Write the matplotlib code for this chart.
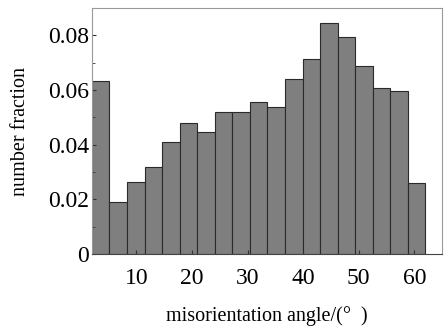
import numpy as np
import matplotlib.pyplot as plt
from matplotlib.ticker import MultipleLocator

# histogram of misorientation angle, 19 bins from 2 to 62 deg
bin_start = 2.0
bin_width = 60.0 / 19
fraction = [0.0634, 0.0192, 0.0263, 0.0320, 0.0408, 0.0478, 0.0448, 0.0519,
            0.0519, 0.0557, 0.0537, 0.0641, 0.0713, 0.0844, 0.0793, 0.0686,
            0.0607, 0.0595, 0.0260]
xticks = [10, 20, 30, 40, 50, 60]
yticks = [0, 0.02, 0.04, 0.06, 0.08]
ytick_labels = ["0", "0.02", "0.04", "0.06", "0.08"]

plt.rcParams['font.family'] = ['Liberation Serif', 'DejaVu Serif']

fig = plt.figure(figsize=(4.48, 3.3), dpi=100)
ax = fig.add_axes([0.205, 0.230, 0.782, 0.746])

left_edges = bin_start + bin_width * np.arange(len(fraction))
ax.bar(left_edges, fraction, width=bin_width, align='edge',
       color='#7f7f7f', edgecolor='#2a2a2a', linewidth=0.8)

ax.set_xlim(2, 65)
ax.set_ylim(0, 0.09)
ax.set_xticks(xticks)
ax.set_yticks(yticks)
ax.set_yticklabels(ytick_labels)
ax.yaxis.set_minor_locator(MultipleLocator(0.01))
ax.tick_params(direction='in', length=3, width=0.8, labelsize=17, color='#333333')
ax.tick_params(which='minor', direction='in', length=2, width=0.6, color='#333333')
ax.tick_params(axis='x', pad=10)
ax.tick_params(axis='y', pad=2)

for s in ax.spines.values():
    s.set_color('#999999')
    s.set_linewidth(0.8)
ax.spines['bottom'].set_color('#444444')

ax.set_xlabel("misorientation angle/(°  )", fontsize=14.5, labelpad=12)
ax.set_ylabel("number fraction", fontsize=14.5, labelpad=13)

fig.savefig("out.png", dpi=100)
